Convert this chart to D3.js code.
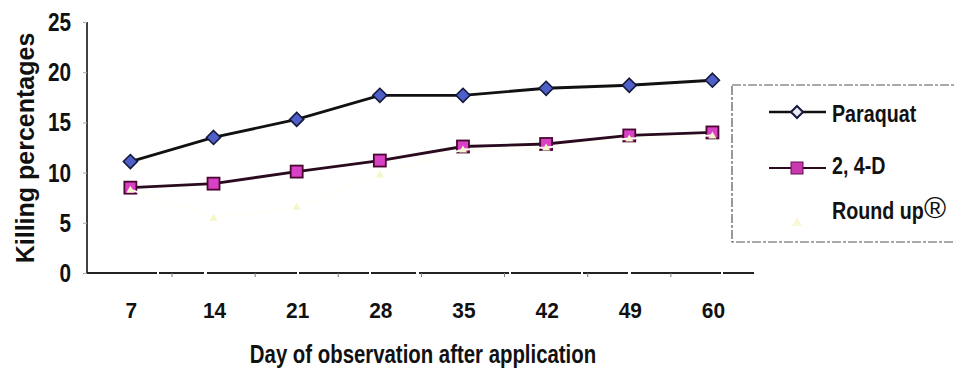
<!DOCTYPE html>
<html>
<head>
<meta charset="utf-8">
<script src="https://cdn.jsdelivr.net/npm/d3@7"></script>
<style>
  html, body { margin: 0; padding: 0; background: #fff; }
  svg { display: block; }
  text { font-family: "Liberation Sans", Arial, sans-serif; font-weight: bold; fill: #111; }
</style>
</head>
<body>
<svg id="chart" width="955" height="373"></svg>
<script>
// Days after application (categories) and killing percentages per herbicide
const days = ["7", "14", "21", "28", "35", "42", "49", "60"];
const paraquat = [11.1, 13.5, 15.3, 17.7, 17.7, 18.4, 18.7, 19.2];
const twoFourD = [8.5, 8.9, 10.1, 11.2, 12.6, 12.85, 13.7, 14.0];
const roundUp = [8.3, 5.5, 6.6, 9.8, 12.3, 12.5, 13.4, 13.7];
const yTicks = [0, 5, 10, 15, 20, 25];
const seriesNames = ["Paraquat", "2, 4-D", "Round up"];

const svg = d3.select("#chart");

const x = d3.scaleBand().domain(days).range([88.8, 754]);
const y = d3.scaleLinear().domain([0, 25]).range([273, 22]);
const cx = d => x(d) + x.bandwidth() / 2;

// Condensed bold text: regular bold face squeezed horizontally
function narrow(parent, px, py, str, size, anchor, sx) {
  const g = parent.append("g").attr("transform", `translate(${px},${py}) scale(${sx || 0.8},1)`);
  return g.append("text").attr("text-anchor", anchor || "start")
    .style("font-size", size + "px").text(str);
}

// Y axis
const yAxis = d3.axisLeft(y).tickValues(yTicks).tickSize(4).tickFormat("");
const gy = svg.append("g").attr("transform", "translate(87,0)").call(yAxis);
gy.select(".domain").attr("stroke", "#111").attr("stroke-width", 1.6).attr("d", "M0,22V273");
gy.selectAll(".tick line").attr("stroke", "#aaa").attr("stroke-width", 1);
yTicks.forEach(v => narrow(svg, 71, y(v) + 9, String(v), 25, "end", 0.83));

// X axis: ticks sit on category boundaries
const gx = svg.append("g").attr("transform", "translate(0,273)");
gx.append("line").attr("x1", 87).attr("x2", 754).attr("y1", 0).attr("y2", 0)
  .attr("stroke", "#222").attr("stroke-width", 1.8).attr("stroke-dasharray", "70,2,45,3,90,2");
gx.selectAll(".bnd").data(days.slice(1)).join("line")
  .attr("x1", d => x(d)).attr("x2", d => x(d)).attr("y1", 0).attr("y2", 4)
  .attr("stroke", "#777").attr("stroke-width", 1);
days.forEach(d => narrow(gx, cx(d) + 1, 45, d, 22, "middle", 0.95));

// Axis titles
svg.append("text")
  .attr("transform", "translate(34,148) rotate(-90)")
  .attr("text-anchor", "middle")
  .style("font-size", "25px")
  .text("Killing percentages");
narrow(svg, 423, 363, "Day of observation after application", 25, "middle", 0.815);

const line = d3.line().x((v, i) => cx(days[i])).y(v => y(v));

// Paraquat
svg.append("path").datum(paraquat).attr("d", line)
  .attr("fill", "none").attr("stroke", "#111").attr("stroke-width", 2.8);
svg.selectAll(".pq").data(paraquat).join("path")
  .attr("transform", (v, i) => `translate(${cx(days[i])},${y(v)})`)
  .attr("d", "M0,-7L7,0L0,7L-7,0Z")
  .attr("fill", "#4e5fc8").attr("stroke", "#14183a").attr("stroke-width", 1.6);

// 2, 4-D
svg.append("path").datum(twoFourD).attr("d", line)
  .attr("fill", "none").attr("stroke", "#2a0a1e").attr("stroke-width", 2.8);
svg.selectAll(".td").data(twoFourD).join("rect")
  .attr("x", (v, i) => cx(days[i]) - 6).attr("y", v => y(v) - 6)
  .attr("width", 12).attr("height", 12)
  .attr("fill", "#d941c6").attr("stroke", "#4a0830").attr("stroke-width", 1.8);

// Round up (very pale yellow, nearly invisible)
svg.append("path").datum(roundUp).attr("d", line)
  .attr("fill", "none").attr("stroke", "#fffff8").attr("stroke-width", 2);
svg.selectAll(".ru").data(roundUp).join("path")
  .attr("transform", (v, i) => `translate(${cx(days[i])},${y(v)})`)
  .attr("d", "M0,-4L4,3L-4,3Z")
  .attr("fill", "#f6f6c8").attr("stroke", "none");

// Legend
const lg = svg.append("g");
lg.append("rect").attr("x", 732).attr("y", 85).attr("width", 240).attr("height", 157)
  .attr("fill", "none").attr("stroke", "#555").attr("stroke-width", 1.2).attr("stroke-dasharray", "9,2,3,2");
const ly = [112, 168, 222];
const lb = [122, 174, 219];
lg.append("line").attr("x1", 769).attr("x2", 826).attr("y1", ly[0]).attr("y2", ly[0]).attr("stroke", "#111").attr("stroke-width", 2.4);
lg.append("path").attr("transform", `translate(797,${ly[0]})`).attr("d", "M0,-6L6,0L0,6L-6,0Z")
  .attr("fill", "#e8eaf8").attr("stroke", "#14183a").attr("stroke-width", 2);
lg.append("line").attr("x1", 769).attr("x2", 826).attr("y1", ly[1]).attr("y2", ly[1]).attr("stroke", "#2a0a1e").attr("stroke-width", 2.2);
lg.append("rect").attr("x", 791).attr("y", ly[1] - 6).attr("width", 12).attr("height", 12)
  .attr("fill", "#c838b0").attr("stroke", "#6a1050").attr("stroke-width", 1);
lg.append("path").attr("transform", `translate(797,${ly[2]})`).attr("d", "M0,-5L5,4L-5,4Z").attr("fill", "#f8f8d8");
seriesNames.forEach((name, i) => narrow(lg, 832, lb[i], name, 24, "start", 0.82));
lg.append("text").attr("x", 924).attr("y", 218)
  .style("font-size", "30px").style("font-weight", "normal").text("®");
</script>
</body>
</html>
